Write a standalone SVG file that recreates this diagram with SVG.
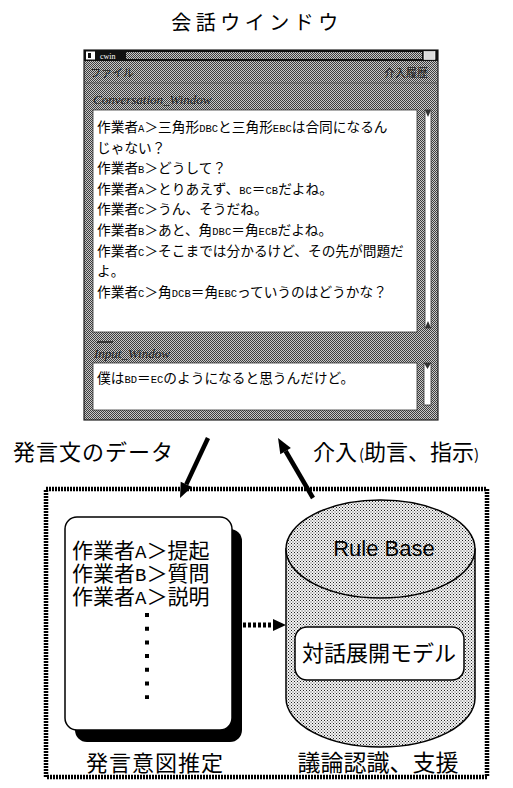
<svg xmlns="http://www.w3.org/2000/svg" width="513" height="788" viewBox="0 0 513 788">
<style>
.cj{font-family:"Noto Sans CJK JP","Noto Sans CJK SC",sans-serif;fill:#000}
.mono{font-family:"Liberation Mono",monospace}
.conv{font-size:13.7px}
.conv .l{font-size:10.5px}
.lbl{font-size:22px}
.it{font-family:"Liberation Serif",serif;font-style:italic;font-size:13px;fill:#222}
.menu{font-size:11px;fill:#222}
.pane{fill:#fff;stroke:#333;stroke-width:0.8}
.sb{fill:#fff;stroke:#333;stroke-width:0.8}
.arrow{stroke:#000;stroke-width:4.5;fill:none}
</style>
<defs>
<pattern id="stipple" width="2" height="2" patternUnits="userSpaceOnUse">
<rect width="2" height="2" fill="#c8c8c8"/>
<rect x="0" y="0" width="1" height="1" fill="#3e3e3e"/>
<rect x="1" y="1" width="1" height="1" fill="#3e3e3e"/>
</pattern>
<pattern id="dots" width="3" height="3" patternUnits="userSpaceOnUse">
<rect width="3" height="3" fill="#f4f4f4"/>
<rect x="0" y="0" width="1" height="1" fill="#222"/>
<rect x="1.5" y="1.5" width="1" height="1" fill="#444"/>
</pattern>
</defs>

<g id="title">
<text class="cj" x="257" y="30" font-size="20" letter-spacing="4.5" text-anchor="middle">会話ウインドウ</text>
</g>

<g id="window">
<rect x="84" y="50" width="354" height="370" fill="url(#stipple)" stroke="#222" stroke-width="1.2"/>
<rect x="84" y="50" width="354" height="11" fill="#111"/>
<rect x="126" y="52" width="296" height="7" fill="url(#stipple)"/>
<rect x="86" y="51.5" width="9" height="8" fill="#fff"/>
<rect x="88" y="53" width="3" height="5" fill="#111"/>
<text x="100" y="59" font-family="Liberation Serif,serif" font-size="8" fill="#fff">cwin</text>
<rect x="424" y="51.5" width="11" height="8" fill="#ddd" stroke="#fff" stroke-width="0.6"/>
<text class="cj menu" x="90" y="77">ファイル</text>
<text class="cj menu" x="384" y="77">介入履歴</text>
<line x1="84" y1="83" x2="438" y2="83" stroke="#555" stroke-width="0.8"/>
<text class="it" x="93" y="104">Conversation_Window</text>
<rect class="pane" x="93" y="110" width="324" height="222"/>
<rect class="sb" x="425" y="110" width="6" height="218"/>
<path d="M425,110 L431,110 L428,117 Z" fill="#333"/>
<path d="M425,328 L431,328 L428,321 Z" fill="#333"/>
<g class="cj conv">
<text x="97" y="132">作業者<tspan class="mono l">A</tspan>＞三角形<tspan class="mono l">DBC</tspan>と三角形<tspan class="mono l">EBC</tspan>は合同になるん</text>
<text x="97" y="152.6">じゃない？</text>
<text x="97" y="173.2">作業者<tspan class="mono l">B</tspan>＞どうして？</text>
<text x="97" y="193.8">作業者<tspan class="mono l">A</tspan>＞とりあえず、<tspan class="mono l">BC</tspan>＝<tspan class="mono l">CB</tspan>だよね。</text>
<text x="97" y="214.4">作業者<tspan class="mono l">C</tspan>＞うん、そうだね。</text>
<text x="97" y="235">作業者<tspan class="mono l">B</tspan>＞あと、角<tspan class="mono l">DBC</tspan>＝角<tspan class="mono l">ECB</tspan>だよね。</text>
<text x="97" y="255.6">作業者<tspan class="mono l">C</tspan>＞そこまでは分かるけど、その先が問題だ</text>
<text x="97" y="276.2">よ。</text>
<text x="97" y="296.8">作業者<tspan class="mono l">C</tspan>＞角<tspan class="mono l">DCB</tspan>＝角<tspan class="mono l">EBC</tspan>っていうのはどうかな？</text>
</g>
<line x1="97" y1="342" x2="113" y2="342" stroke="#222" stroke-width="1.5"/>
<text class="it" x="94" y="358" font-size="12">Input_Window</text>
<rect class="pane" x="93" y="363" width="324" height="47"/>
<rect class="sb" x="424" y="363" width="7" height="42"/>
<path d="M424,363 L431,363 L427.5,369 Z" fill="#333"/>
<g class="cj conv">
<text x="97" y="383">僕は<tspan class="mono l">BD</tspan>＝<tspan class="mono l">EC</tspan>のようになると思うんだけど。</text>
</g>
</g>

<g id="labels">
<text class="cj lbl" x="13" y="460" letter-spacing="1">発言文のデータ</text>
<text class="cj lbl" x="313" y="460">介入<tspan font-size="15" dx="2">(</tspan>助言、指示<tspan font-size="15">)</tspan></text>
</g>

<g id="box">
<rect x="46" y="489" width="441" height="288" fill="none" stroke="#000" stroke-width="4.5" stroke-dasharray="2 1"/>
</g>

<g id="document">
<rect x="75" y="529" width="167" height="213" rx="12" fill="#000"/>
<rect x="65" y="517" width="167" height="213" rx="12" fill="#fff" stroke="#000" stroke-width="1.5"/>
<g class="cj" font-size="21">
<text x="72" y="558">作業者<tspan class="mono" font-size="19">A</tspan>＞提起</text>
<text x="72" y="581">作業者<tspan class="mono" font-size="19">B</tspan>＞質問</text>
<text x="72" y="604">作業者<tspan class="mono" font-size="19">A</tspan>＞説明</text>
</g>
<line x1="147" y1="613" x2="147" y2="699" stroke="#000" stroke-width="4" stroke-dasharray="4 9.7"/>
<text class="cj lbl" x="155" y="771" text-anchor="middle" letter-spacing="1">発言意図推定</text>
</g>

<g id="rulebase">
<path d="M286,549 L286,698 A94.5,49 0 0 0 475,698 L475,549 Z" fill="url(#dots)" stroke="#000" stroke-width="1.5"/>
<ellipse cx="380.5" cy="549" rx="94.5" ry="49" fill="url(#dots)" stroke="#000" stroke-width="1.5"/>
<text x="384" y="556" font-family="Liberation Sans,Arial,sans-serif" font-size="22" text-anchor="middle">Rule Base</text>
<rect x="295" y="627" width="169" height="53" rx="12" fill="#fff" stroke="#000" stroke-width="1.5"/>
<text class="cj lbl" x="379" y="661" text-anchor="middle">対話展開モデル</text>
<text class="cj" x="378" y="771" font-size="23" text-anchor="middle">議論認識、支援</text>
</g>

<g id="connectors">
<line class="arrow" x1="208" y1="438" x2="186.3" y2="484.4"/>
<polygon points="180,498 191.9,487 180.7,481.8"/>
<line class="arrow" x1="313" y1="498" x2="285.6" y2="451"/>
<polygon points="278,438 290.9,448.1 280.3,454.3"/>
<line x1="243" y1="625" x2="273" y2="625" stroke="#000" stroke-width="5" stroke-dasharray="3 2"/>
<polygon points="286,625 273,619 273,631"/>
</g>
</svg>
